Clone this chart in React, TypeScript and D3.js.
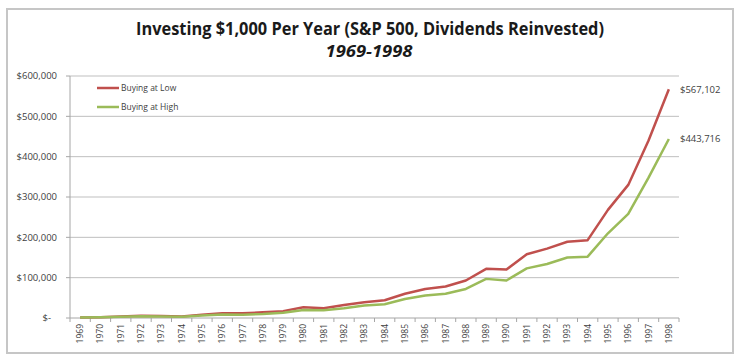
import React from "react";
import * as d3 from "d3";

const years = d3.range(1969, 1999).map(String);
const buyingAtLow = [1000, 2000, 3500, 5500, 5000, 3500, 8000, 12000, 11500, 14000, 17000, 26500, 24000, 32000, 39000, 44000, 60000, 72000, 78000, 93000, 122000, 120000, 158000, 172000, 189000, 193000, 268000, 330000, 440000, 567102];
const buyingAtHigh = [1000, 2000, 3000, 4500, 4000, 3000, 6000, 8500, 8300, 10000, 13000, 20000, 19500, 24000, 31000, 34000, 47000, 56000, 60000, 72000, 97000, 93000, 123000, 134000, 150000, 152000, 210000, 258000, 348000, 443716];
const yTicks = [0, 100000, 200000, 300000, 400000, 500000, 600000];
const seriesNames = ["Buying at Low", "Buying at High"];
const seriesColors = ["#c0504d", "#9bbb59"];
const endLabels = ["$567,102", "$443,716"];

const W = 740, H = 357;
const plot = { left: 70, right: 679, top: 76, bottom: 318 };
const FONT = "'Open Sans', 'Liberation Sans', sans-serif";

export default function App() {
  const x = d3.scaleBand().domain(years).range([plot.left, plot.right]);
  const y = d3.scaleLinear().domain([0, 600000]).range([plot.bottom, plot.top]);
  const line = d3.line<number>()
    .x((_, i) => (x(years[i]) as number) + x.bandwidth() / 2)
    .y((d) => y(d));
  const fmt = (v: number) => (v === 0 ? "$-" : "$" + d3.format(",")(v));
  const series = [buyingAtLow, buyingAtHigh];
  const bounds = years.map((yr) => x(yr) as number).concat([plot.right]);

  return (
    <svg width={W} height={H} style={{ position: "absolute", left: 0, top: 0 }} fontFamily={FONT}>
      <rect x={0} y={0} width={W} height={H} fill="#ffffff" />
      <rect x={7} y={9} width={726} height={344} fill="#ffffff" stroke="#c6c6c6" strokeWidth={2} />
      <text x={370} y={34.5} textAnchor="middle" fontSize={17} fontWeight="bold" fill="#1a1a1a"
        textLength={468} lengthAdjust="spacingAndGlyphs">
        Investing $1,000 Per Year (S&amp;P 500, Dividends Reinvested)
      </text>
      <text x={369} y={57} textAnchor="middle" fontSize={16} fontWeight="bold" fontStyle="italic" fill="#1a1a1a"
        textLength={87} lengthAdjust="spacingAndGlyphs">
        1969-1998
      </text>
      {yTicks.map((t) => (
        <g key={t}>
          <line x1={plot.left} x2={plot.right} y1={y(t)} y2={y(t)} stroke={t === 0 ? "#a6a6a6" : "#bfbfbf"} strokeWidth={1} />
          <line x1={plot.left - 4} x2={plot.left} y1={y(t)} y2={y(t)} stroke="#a6a6a6" strokeWidth={1} />
          <text x={t === 0 ? 51 : 57} y={y(t)} dy="0.35em" textAnchor="end" fontSize={9.5} fill="#404040">
            {fmt(t)}
          </text>
        </g>
      ))}
      <line x1={plot.left} x2={plot.left} y1={plot.top} y2={plot.bottom} stroke="#a6a6a6" strokeWidth={1} />
      {bounds.map((b, i) => (
        <line key={i} x1={b} x2={b} y1={plot.bottom} y2={plot.bottom + 4} stroke="#a6a6a6" strokeWidth={1} />
      ))}
      {years.map((yr) => {
        const cx = (x(yr) as number) + x.bandwidth() / 2;
        return (
          <text key={yr} transform={`translate(${cx + 3},${plot.bottom + 6}) rotate(-90)`} textAnchor="end"
            fontSize={8.5} fill="#404040">
            {yr}
          </text>
        );
      })}
      {series.map((s, i) => (
        <path key={i} d={line(s) || ""} fill="none" stroke={seriesColors[i]} strokeWidth={2.5} strokeLinejoin="round" />
      ))}
      {series.map((s, i) => (
        <text key={i} x={680} y={y(s[s.length - 1])} dy="0.35em" fontSize={9.5} fill="#404040">
          {endLabels[i]}
        </text>
      ))}
      {seriesNames.map((n, i) => (
        <g key={n}>
          <line x1={97} x2={119} y1={88 + i * 19} y2={88 + i * 19} stroke={seriesColors[i]} strokeWidth={2.5} />
          <text x={121} y={88 + i * 19} dy="0.35em" fontSize={8.5} fill="#404040">{n}</text>
        </g>
      ))}
    </svg>
  );
}
